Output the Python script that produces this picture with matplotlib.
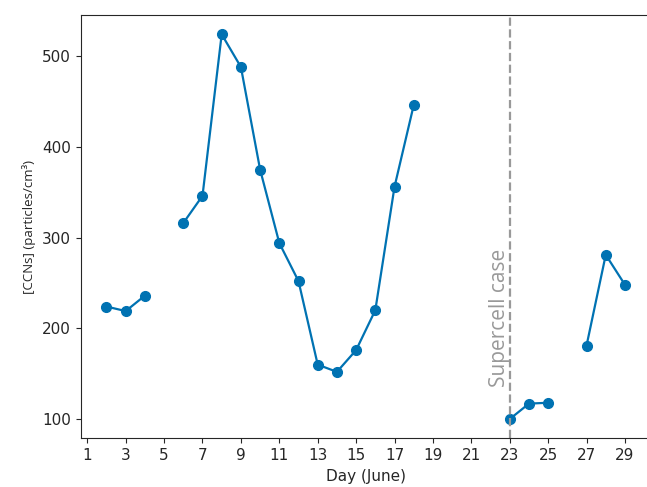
import numpy as np
import matplotlib
matplotlib.use("Agg")
import matplotlib.pyplot as plt

days = list(range(2, 30))
ccn = [224, 219, 236, np.nan, 316, 346, 524, 488, 375, 294, 252, 160, 152, 176, 220, 356, 446,
       np.nan, np.nan, np.nan, np.nan, 100, 117, 118, np.nan, 181, 281, 248]
xticks = list(range(1, 30, 2))
supercell_day = 23

dark = "#262626"
plt.rcParams.update({"axes.edgecolor": dark, "xtick.color": dark, "ytick.color": dark,
                     "axes.labelcolor": dark, "text.color": dark})

fig, ax = plt.subplots(figsize=(6.47, 4.87), dpi=100)
fig.subplots_adjust(left=0.1245, right=1.006, top=0.969, bottom=0.1)
ax.plot(days, ccn, color="#0072B2", marker="o", lw=1.6, ms=7)
ax.axvline(supercell_day, color="#999999", ls="--", lw=1.6)
ax.text(supercell_day - 0.55, 212, "Supercell case", rotation=90, color="#999999",
        fontsize=15, family="Open Sans", ha="center", va="center")
ax.set_xticks(xticks)
ax.set_yticks([100, 200, 300, 400, 500])
ax.tick_params(labelsize=11)
ax.set_xlabel("Day (June)", fontsize=11)
ax.set_ylabel("[CCNs] (particles/cm³)", fontsize=9.5, family="Open Sans")
fig.savefig("out.png", dpi=100)
